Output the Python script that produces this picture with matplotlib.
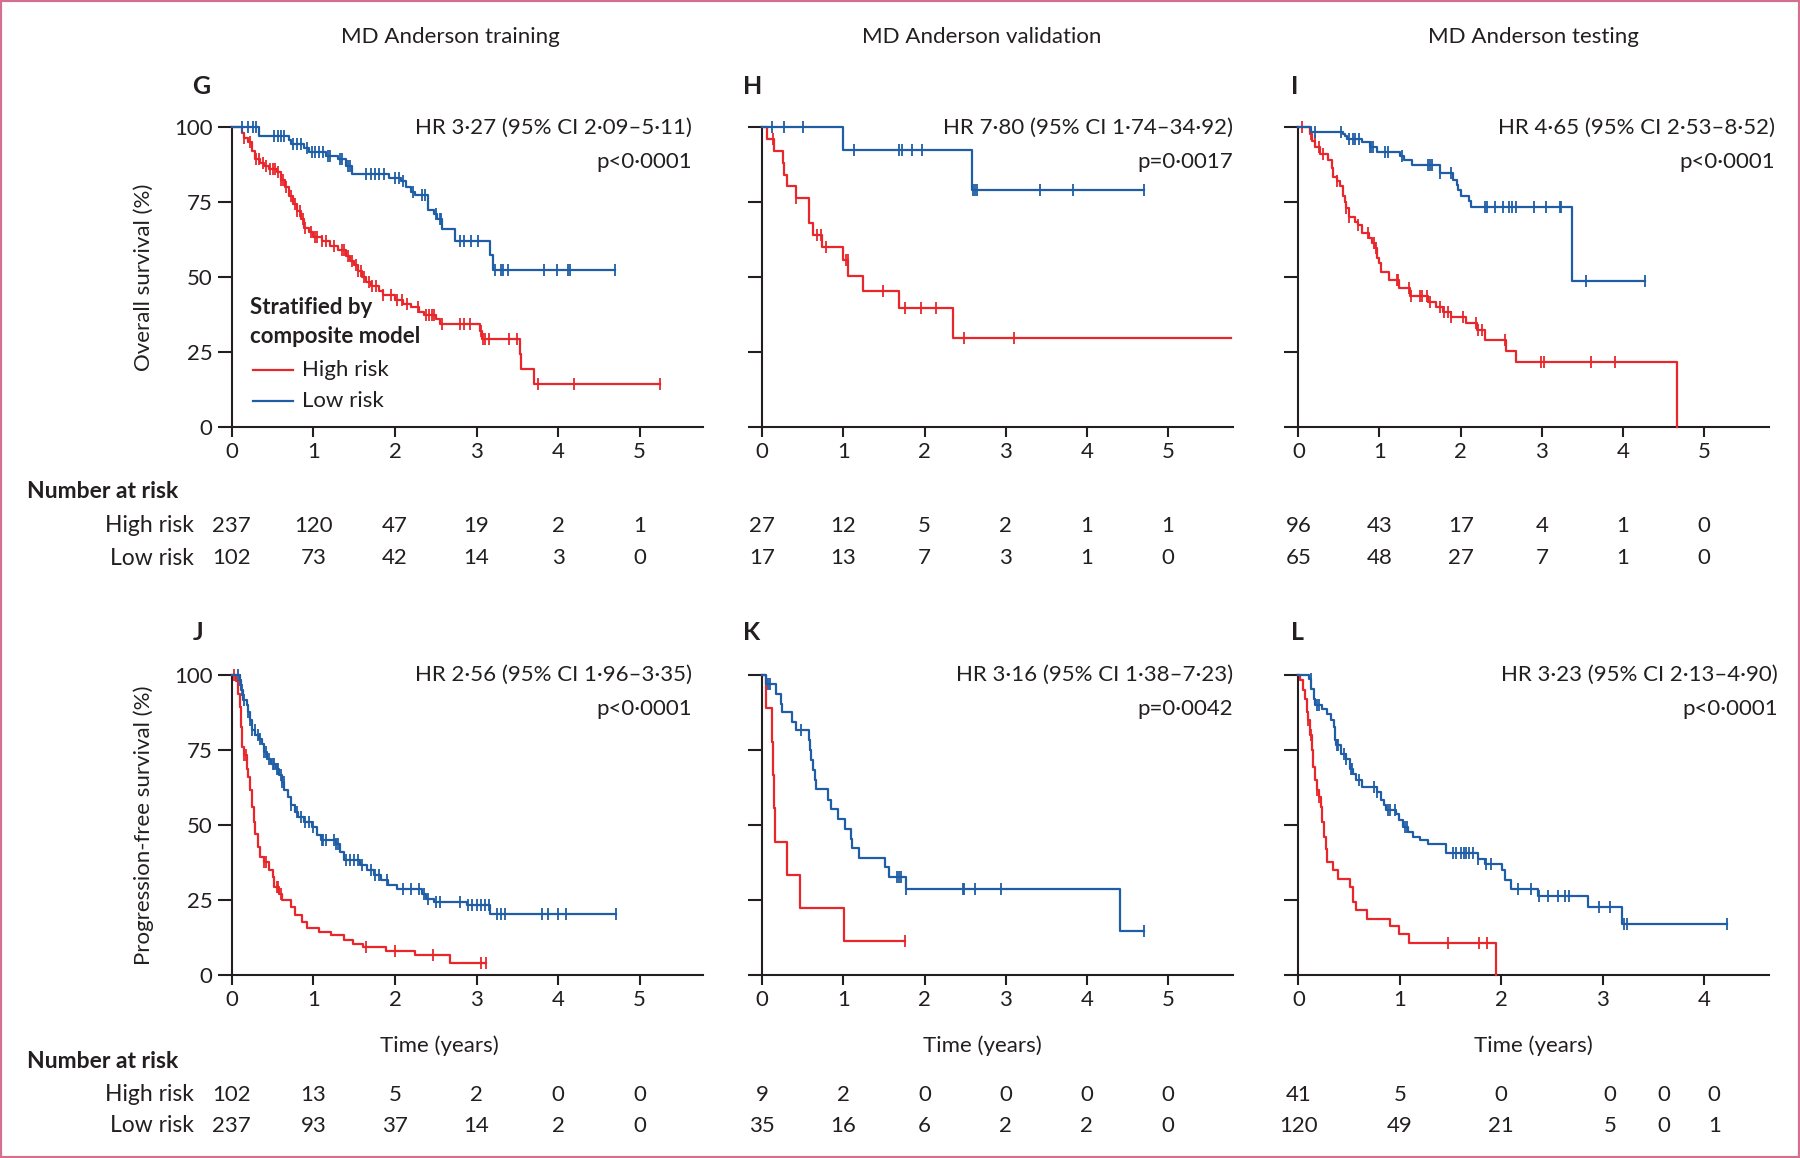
import numpy as np
import matplotlib

matplotlib.use("Agg")
import matplotlib.pyplot as plt  # noqa: E402
from matplotlib.patches import Rectangle  # noqa: E402
from matplotlib.transforms import blended_transform_factory  # noqa: E402

plt.rcParams["font.family"] = ["Lato", "DejaVu Sans"]

RED = "#e8262b"
BLUE = "#1f5ea6"
INK = "#231f20"
FS = 16

# ---------------- G: overall survival, training ----------------
g_low_t = [0.33, 0.70, 0.73, 0.88, 0.95, 1.15, 1.30, 1.40, 1.47, 1.93, 2.07, 2.13,
           2.20, 2.25, 2.40, 2.48, 2.52, 2.58, 2.73, 3.16, 3.20]
g_low_s = [97.2, 95.8, 94.3, 93.0, 91.8, 90.6, 89.3, 87.0, 84.5, 83.2, 82.0, 80.2,
           78.5, 77.3, 72.5, 71.0, 69.5, 66.0, 62.0, 57.5, 52.5]
g_low_end = 4.7
g_low_cens = [0.12, 0.2, 0.26, 0.3, 0.52, 0.57, 0.6, 0.64, 0.75, 0.8, 0.85, 0.92, 0.98,
              1.02, 1.07, 1.12, 1.18, 1.2, 1.32, 1.35, 1.42, 1.45, 1.65, 1.7, 1.75, 1.8,
              1.87, 2.0, 2.05, 2.1, 2.22, 2.33, 2.37, 2.5, 2.55, 2.57, 2.8, 2.85, 2.93,
              3.02, 3.22, 3.3, 3.33, 3.38, 3.83, 3.99, 4.12, 4.15, 4.7]
g_high_t = [0.12, 0.15, 0.2, 0.25, 0.28, 0.35, 0.4, 0.45, 0.55, 0.6, 0.65, 0.7, 0.75,
            0.8, 0.85, 0.88, 0.95, 1.0, 1.1, 1.2, 1.3, 1.4, 1.45, 1.5, 1.55, 1.6, 1.65,
            1.7, 1.8, 1.85, 2.0, 2.1, 2.2, 2.3, 2.35, 2.5, 2.55, 3.04, 3.07, 3.53, 3.55, 3.7]
g_high_s = [98.0, 96.5, 95.0, 92.0, 89.5, 88.0, 87.0, 86.0, 85.0, 82.5, 80.0, 77.0, 74.5,
            72.0, 69.5, 66.5, 65.0, 63.5, 62.0, 60.5, 59.0, 57.0, 55.5, 54.0, 52.0, 50.0,
            48.5, 47.0, 45.5, 44.0, 42.5, 41.0, 40.0, 38.5, 37.5, 36.0, 34.5, 32.0, 29.5,
            24.5, 19.5, 14.5]
g_high_end = 5.25
g_high_cens = [0.15, 0.22, 0.3, 0.33, 0.38, 0.42, 0.47, 0.5, 0.53, 0.57, 0.6, 0.63, 0.67,
               0.72, 0.77, 0.8, 0.83, 0.87, 0.9, 0.97, 1.02, 1.05, 1.1, 1.15, 1.25, 1.35,
               1.38, 1.42, 1.47, 1.52, 1.55, 1.58, 1.62, 1.68, 1.72, 1.77, 1.85, 1.95, 2.02,
               2.08, 2.15, 2.28, 2.38, 2.42, 2.45, 2.48, 2.58, 2.8, 2.85, 2.92, 3.05, 3.08,
               3.1, 3.15, 3.4, 3.5, 3.75, 4.2, 5.25]

# ---------------- H: overall survival, validation ----------------
h_low_t = [1.0, 2.59]
h_low_s = [92.3, 79.1]
h_low_end = 4.7
h_low_cens = [0.12, 0.27, 0.5, 1.13, 1.69, 1.72, 1.85, 1.97, 2.6, 2.62, 2.65, 3.42, 3.83, 4.7]
h_high_t = [0.06, 0.15, 0.25, 0.27, 0.31, 0.42, 0.57, 0.58, 0.63, 0.73, 1.0, 1.06, 1.24,
            1.69, 2.35]
h_high_s = [96.0, 92.0, 88.0, 84.2, 80.3, 76.5, 72.5, 68.2, 64.0, 60.0, 55.6, 50.4, 45.4,
            39.6, 29.7]
h_high_end = 5.78
h_high_cens = [0.13, 0.42, 0.68, 0.72, 0.78, 1.03, 1.05, 1.49, 1.76, 1.95, 2.14, 2.48, 3.1]

# ---------------- I: overall survival, testing ----------------
i_low_t = [0.15, 0.55, 0.58, 0.6, 0.78, 0.88, 0.97, 1.25, 1.3, 1.4, 1.74, 1.91, 1.95,
           1.97, 2.0, 2.1, 2.13, 3.37]
i_low_s = [98.4, 97.8, 97.0, 96.1, 95.0, 93.6, 91.8, 90.3, 89.2, 87.3, 84.7, 82.5, 80.8,
           79.2, 77.0, 75.5, 73.4, 48.8]
i_low_end = 4.27
i_low_cens = [0.2, 0.53, 0.63, 0.67, 0.7, 0.75, 0.88, 0.9, 0.92, 1.07, 1.1, 1.28, 1.6,
              1.62, 1.65, 1.75, 1.88, 2.3, 2.33, 2.42, 2.52, 2.6, 2.63, 2.68, 2.9, 3.05,
              3.22, 3.24, 3.54, 4.27]
i_high_t = [0.14, 0.17, 0.21, 0.27, 0.36, 0.41, 0.43, 0.48, 0.51, 0.55, 0.57, 0.59, 0.62,
            0.7, 0.74, 0.78, 0.87, 0.91, 0.95, 0.97, 0.99, 1.02, 1.12, 1.24, 1.37, 1.6,
            1.7, 1.78, 1.88, 2.07, 2.2, 2.3, 2.56, 2.68, 4.67]
i_high_s = [97.8, 95.5, 93.3, 91.0, 89.2, 86.4, 83.6, 82.0, 80.3, 77.0, 75.0, 73.0, 70.2,
            68.5, 67.4, 64.7, 63.0, 61.3, 59.6, 56.3, 54.6, 51.6, 49.0, 46.5, 43.7, 41.8,
            40.0, 38.5, 36.8, 34.8, 32.3, 29.0, 25.4, 21.7, 0.0]
i_high_end = 4.67
i_high_cens = [0.05, 0.16, 0.2, 0.25, 0.3, 0.48, 0.59, 0.62, 0.74, 0.86, 0.93, 0.96, 1.21,
               1.23, 1.36, 1.39, 1.5, 1.52, 1.58, 1.62, 1.75, 1.8, 1.84, 1.88, 2.03, 2.19,
               2.21, 2.26, 2.55, 2.99, 3.03, 3.61, 3.9]

# ---------------- J: progression-free survival, training ----------------
j_low_t = [0.097, 0.118, 0.139, 0.18, 0.2, 0.22, 0.245, 0.29, 0.33, 0.37, 0.39, 0.43,
           0.48, 0.54, 0.58, 0.61, 0.645, 0.69, 0.72, 0.77, 0.81, 0.88, 0.98, 1.05, 1.09,
           1.28, 1.32, 1.38, 1.57, 1.66, 1.74, 1.83, 1.91, 2.02, 2.33, 2.38, 2.48, 2.88, 3.17]
j_low_s = [98.2, 94.9, 91.5, 89.9, 87.7, 84.9, 81.5, 79.9, 78.8, 77.1, 74.3, 72.1, 70.4,
           68.7, 66.5, 64.3, 61.5, 59.3, 56.5, 54.3, 52.6, 50.9, 49.3, 46.5, 44.8, 43.7,
           40.9, 38.2, 36.5, 34.8, 33.1, 31.5, 29.8, 28.7, 27.0, 25.3, 24.2, 23.1, 20.1]
j_low_end = 4.71
j_low_cens = [0.08, 0.1, 0.12, 0.15, 0.2, 0.22, 0.25, 0.28, 0.32, 0.35, 0.4, 0.42, 0.45,
              0.5, 0.52, 0.55, 0.57, 0.6, 0.62, 0.64, 0.72, 0.8, 0.85, 0.9, 0.95, 1.0,
              1.1, 1.12, 1.15, 1.25, 1.28, 1.3, 1.4, 1.45, 1.5, 1.55, 1.6, 1.7, 1.75, 1.8,
              1.9, 2.1, 2.2, 2.3, 2.35, 2.4, 2.5, 2.55, 2.8, 2.9, 2.95, 3.0, 3.05, 3.1,
              3.15, 3.25, 3.3, 3.35, 3.8, 3.88, 4.0, 4.1, 4.71]
j_high_t = [0.055, 0.076, 0.097, 0.118, 0.13, 0.15, 0.18, 0.2, 0.22, 0.245, 0.27, 0.29,
            0.32, 0.35, 0.39, 0.455, 0.5, 0.52, 0.58, 0.62, 0.73, 0.77, 0.86, 0.92, 1.07,
            1.21, 1.38, 1.49, 1.61, 1.89, 2.25, 2.68]
j_high_s = [98.0, 93.8, 89.3, 82.6, 76.0, 73.2, 68.7, 66.0, 61.5, 56.0, 50.9, 47.0, 42.6,
            39.3, 37.6, 34.8, 32.6, 29.3, 27.0, 24.8, 22.6, 19.8, 17.6, 15.4, 14.2, 13.1,
            11.5, 10.3, 9.2, 7.9, 6.5, 3.9]
j_high_end = 3.11
j_high_cens = [0.03, 0.15, 0.17, 0.4, 0.42, 0.55, 0.57, 0.6, 1.65, 2.0, 2.47, 3.06, 3.11]

# ---------------- K: progression-free survival, validation ----------------
k_low_t = [0.046, 0.164, 0.227, 0.24, 0.366, 0.417, 0.577, 0.585, 0.594, 0.628, 0.645,
           0.657, 0.809, 0.847, 0.93, 1.015, 1.09, 1.1, 1.196, 1.51, 1.56, 1.765, 4.41]
k_low_s = [97.1, 93.8, 90.4, 87.7, 84.3, 81.5, 78.2, 74.9, 71.5, 68.2, 64.8, 61.8, 58.4,
           55.4, 52.0, 48.7, 45.4, 42.4, 39.0, 35.9, 32.6, 28.7, 14.5]
k_low_end = 4.7
k_low_cens = [0.07, 0.1, 0.48, 1.66, 1.68, 1.71, 1.77, 2.47, 2.48, 2.62, 2.94, 4.7]
k_high_t = [0.05, 0.12, 0.135, 0.145, 0.16, 0.3, 0.47, 1.01]
k_high_s = [88.9, 77.8, 66.7, 55.6, 44.4, 33.3, 22.2, 11.1]
k_high_end = 1.76
k_high_cens = [1.76]

# ---------------- L: progression-free survival, testing ----------------
l_low_t = [0.11, 0.125, 0.15, 0.16, 0.236, 0.287, 0.32, 0.347, 0.36, 0.37, 0.42, 0.47,
           0.506, 0.54, 0.573, 0.624, 0.776, 0.81, 0.843, 0.86, 0.96, 0.995, 1.03, 1.08,
           1.13, 1.2, 1.28, 1.46, 1.77, 1.84, 2.01, 2.04, 2.1, 2.36, 2.86, 3.19]
l_low_s = [98.8, 95.4, 92.1, 89.9, 88.8, 87.1, 84.9, 82.6, 78.2, 76.5, 73.7, 72.0, 68.6,
           67.1, 64.8, 62.6, 61.0, 58.2, 56.5, 54.8, 53.7, 51.5, 49.3, 47.6, 45.9, 44.8,
           43.5, 40.6, 38.7, 37.0, 34.8, 31.5, 28.7, 26.3, 22.6, 16.8]
l_low_end = 4.23
l_low_cens = [0.12, 0.18, 0.2, 0.38, 0.39, 0.45, 0.47, 0.52, 0.53, 0.6, 0.75, 0.78, 0.88,
              0.9, 0.95, 1.05, 1.07, 1.52, 1.55, 1.6, 1.63, 1.65, 1.68, 1.72, 1.77, 1.85,
              1.9, 2.17, 2.29, 2.37, 2.46, 2.56, 2.63, 2.67, 2.96, 3.07, 3.21, 3.24, 4.23]
l_high_t = [0.017, 0.05, 0.067, 0.084, 0.1, 0.118, 0.135, 0.145, 0.16, 0.185, 0.2, 0.22,
            0.236, 0.253, 0.27, 0.287, 0.337, 0.388, 0.506, 0.54, 0.573, 0.675, 0.9, 0.99,
            1.086, 1.95]
l_high_s = [98.2, 94.9, 92.1, 87.7, 84.9, 79.9, 74.9, 69.3, 64.8, 61.5, 59.3, 56.0, 50.9,
            45.9, 42.0, 37.6, 34.8, 32.0, 29.3, 24.2, 21.5, 18.7, 16.1, 13.5, 10.6, 0.0]
l_high_end = 1.95
l_high_cens = [0.1, 0.12, 0.185, 0.2, 1.48, 1.78, 1.86]

# ---------------- number at risk ----------------
risk_x = [0, 1, 2, 3, 4, 5]
l_risk_x = [0, 1, 2, 3.07, 3.6, 4.1]
g_risk_high = [237, 120, 47, 19, 2, 1]
g_risk_low = [102, 73, 42, 14, 3, 0]
h_risk_high = [27, 12, 5, 2, 1, 1]
h_risk_low = [17, 13, 7, 3, 1, 0]
i_risk_high = [96, 43, 17, 4, 1, 0]
i_risk_low = [65, 48, 27, 7, 1, 0]
j_risk_high = [102, 13, 5, 2, 0, 0]
j_risk_low = [237, 93, 37, 14, 2, 0]
k_risk_high = [9, 2, 0, 0, 0, 0]
k_risk_low = [35, 16, 6, 2, 2, 0]
l_risk_high = [41, 5, 0, 0, 0, 0]
l_risk_low = [120, 49, 21, 5, 0, 1]

col_titles = ["MD Anderson training", "MD Anderson validation", "MD Anderson testing"]
hr_texts = ["HR 3·27 (95% CI 2·09–5·11)", "HR 7·80 (95% CI 1·74–34·92)",
            "HR 4·65 (95% CI 2·53–8·52)", "HR 2·56 (95% CI 1·96–3·35)",
            "HR 3·16 (95% CI 1·38–7·23)", "HR 3·23 (95% CI 2·13–4·90)"]
p_texts = ["p<0·0001", "p=0·0017", "p<0·0001", "p<0·0001", "p=0·0042", "p<0·0001"]
letters = ["G", "H", "I", "J", "K", "L"]

panels = [
    dict(high=(g_high_t, g_high_s, g_high_end, g_high_cens),
         low=(g_low_t, g_low_s, g_low_end, g_low_cens),
         risk=(risk_x, g_risk_high, g_risk_low), xmax=5.77, xticks=range(6)),
    dict(high=(h_high_t, h_high_s, h_high_end, h_high_cens),
         low=(h_low_t, h_low_s, h_low_end, h_low_cens),
         risk=(risk_x, h_risk_high, h_risk_low), xmax=5.8, xticks=range(6)),
    dict(high=(i_high_t, i_high_s, i_high_end, i_high_cens),
         low=(i_low_t, i_low_s, i_low_end, i_low_cens),
         risk=(risk_x, i_risk_high, i_risk_low), xmax=5.8, xticks=range(6)),
    dict(high=(j_high_t, j_high_s, j_high_end, j_high_cens),
         low=(j_low_t, j_low_s, j_low_end, j_low_cens),
         risk=(risk_x, j_risk_high, j_risk_low), xmax=5.77, xticks=range(6)),
    dict(high=(k_high_t, k_high_s, k_high_end, k_high_cens),
         low=(k_low_t, k_low_s, k_low_end, k_low_cens),
         risk=(risk_x, k_risk_high, k_risk_low), xmax=5.8, xticks=range(6)),
    dict(high=(l_high_t, l_high_s, l_high_end, l_high_cens),
         low=(l_low_t, l_low_s, l_low_end, l_low_cens),
         risk=(l_risk_x, l_risk_high, l_risk_low), xmax=4.64, xticks=range(5)),
]


def km(ax, curve, color):
    t, s, end, cens = curve
    ax.plot([0] + t + [end], [100] + s + [s[-1]], drawstyle="steps-post",
            color=color, lw=1.6, clip_on=False, zorder=3)
    idx = np.searchsorted(t, cens, side="right")
    ys = np.r_[100.0, s][idx]
    ax.plot(cens, ys, ls="none", marker="|", ms=9, mew=1.3, color=color,
            clip_on=False, zorder=3)


fig = plt.figure(figsize=(18, 11.58), dpi=100)
lefts = [0.1288, 0.4235, 0.7213]
bottoms = [0.6313, 0.1584]
W, H = 0.2615, 0.2587
hr_x = [0.978, 1.0, 1.013, 0.978, 1.0, 1.018]
letter_x = [0.107, 0.413, 0.717]
letter_y = [0.9257, 0.4538]
nar_y = [(0.5752, 0.5460, 0.5180), (0.0835, 0.0548, 0.0280)]

for k, p in enumerate(panels):
    r, c = divmod(k, 3)
    ax = fig.add_axes([lefts[c], bottoms[r], W, H])
    km(ax, p["high"], RED)
    km(ax, p["low"], BLUE)
    ax.set_xlim(0, p["xmax"])
    ax.set_ylim(0, 100)
    for side in ("top", "right"):
        ax.spines[side].set_visible(False)
    for side in ("left", "bottom"):
        ax.spines[side].set_linewidth(1.5)
        ax.spines[side].set_color(INK)
    ax.set_xticks(list(p["xticks"]))
    ax.set_yticks([0, 25, 50, 75, 100])
    ax.tick_params(axis="y", length=10, width=1.5, color=INK, labelsize=FS, pad=4,
                   labelcolor=INK, labelleft=(c == 0))
    ax.tick_params(axis="x", length=7.5, width=1.5, color=INK, labelsize=FS, pad=3.5,
                   labelcolor=INK)

    ax.text(hr_x[k], 1.0, hr_texts[k], transform=ax.transAxes, ha="right", va="center",
            fontsize=FS, color=INK)
    ax.text(hr_x[k], 0.885, p_texts[k], transform=ax.transAxes, ha="right", va="center",
            fontsize=FS, color=INK)
    fig.text(letter_x[c], letter_y[r], letters[k], fontsize=18, fontweight="bold",
             color=INK, va="center", ha="left")

    # number at risk
    xs, hi, lo = p["risk"]
    tr = blended_transform_factory(ax.transData, fig.transFigure)
    for x, h_n, l_n in zip(xs, hi, lo):
        fig.text(x, nar_y[r][1], str(h_n), transform=tr, ha="center", va="center",
                 fontsize=FS, color=INK)
        fig.text(x, nar_y[r][2], str(l_n), transform=tr, ha="center", va="center",
                 fontsize=FS, color=INK)
    if c == 0:
        fig.text(0.015, nar_y[r][0], "Number at risk", fontsize=FS + 0.5, fontweight="bold",
                 color=INK, va="center", ha="left")
        fig.text(0.1075, nar_y[r][1], "High risk", fontsize=FS + 0.5, color=INK,
                 va="center", ha="right")
        fig.text(0.1075, nar_y[r][2], "Low risk", fontsize=FS + 0.5, color=INK,
                 va="center", ha="right")
    if r == 1:
        ax.text(0.5 if c == 2 else 0.44 if c == 0 else 0.468, -0.238, "Time (years)",
                transform=ax.transAxes, ha="center", va="center", fontsize=FS, color=INK)

    if k == 0:
        ax.text(0.039, 0.398, "Stratified by", transform=ax.transAxes, fontsize=FS,
                fontweight="bold", color=INK, va="center")
        ax.text(0.039, 0.302, "composite model", transform=ax.transAxes, fontsize=FS,
                fontweight="bold", color=INK, va="center")
        for yy, lab, col in ((0.191, "High risk", RED), (0.088, "Low risk", BLUE)):
            ax.plot([0.044, 0.129], [yy, yy], transform=ax.transAxes, color=col, lw=1.6)
            ax.text(0.149, yy, lab, transform=ax.transAxes, fontsize=FS, color=INK,
                    va="center")

fig.text(0.0797, bottoms[0] + H / 2, "Overall survival (%)", rotation=90, fontsize=FS,
         color=INK, ha="center", va="center")
fig.text(0.0797, bottoms[1] + H / 2, "Progression-free survival (%)", rotation=90,
         fontsize=FS, color=INK, ha="center", va="center")

for x, title in zip([0.25, 0.5453, 0.852], col_titles):
    fig.text(x, 0.9683, title, fontsize=FS, color=INK, ha="center", va="center")

fig.patches.append(Rectangle((0, 0), 1, 1, transform=fig.transFigure, fill=False,
                             edgecolor="#d66f8f", lw=3))

fig.savefig("out.png", dpi=100)
plt.close(fig)
